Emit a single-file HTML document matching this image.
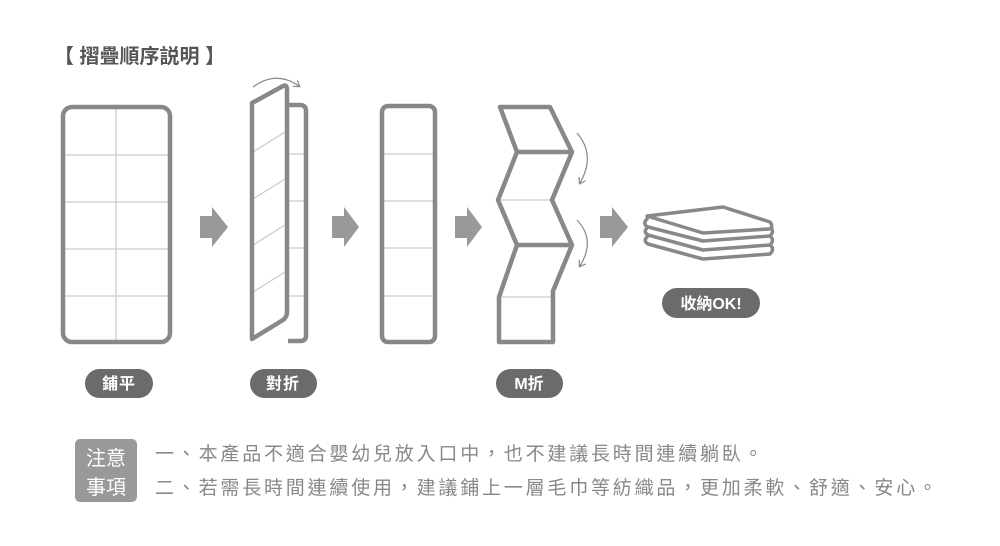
<!DOCTYPE html>
<html><head><meta charset="utf-8"><style>
body{margin:0;background:#fff;width:1000px;height:546px;overflow:hidden;font-family:"Liberation Sans","Noto Sans CJK TC",sans-serif}
</style></head><body>
<svg width="1000" height="546" viewBox="0 0 1000 546" xmlns="http://www.w3.org/2000/svg" style="position:absolute;left:0;top:0">
<defs>
<marker id="ah" markerWidth="8" markerHeight="8" refX="5" refY="4" orient="auto" markerUnits="userSpaceOnUse"><path d="M0,0 L6,4 L0,8" fill="none" stroke="#888" stroke-width="1.2"/></marker>
</defs>
<text x="54" y="63" font-size="20" font-weight="bold" fill="#555" font-family="Liberation Sans, Noto Sans CJK TC, sans-serif">【 摺疊順序説明 】</text>
<g fill="none" stroke="#ccc" stroke-width="1.3">
<line x1="116" y1="108" x2="116" y2="341"/>
<line x1="64" y1="155" x2="169" y2="155"/><line x1="64" y1="202" x2="169" y2="202"/><line x1="64" y1="249" x2="169" y2="249"/><line x1="64" y1="296" x2="169" y2="296"/>
<line x1="288" y1="154" x2="305" y2="154"/><line x1="288" y1="201" x2="305" y2="201"/><line x1="288" y1="248" x2="305" y2="248"/><line x1="288" y1="296" x2="305" y2="296"/>
<line x1="253" y1="152" x2="285" y2="132"/><line x1="253" y1="199" x2="285" y2="179"/><line x1="253" y1="245" x2="285" y2="225"/><line x1="253" y1="292" x2="285" y2="272"/>
<line x1="384" y1="154" x2="433" y2="154"/><line x1="384" y1="201" x2="433" y2="201"/><line x1="384" y1="248" x2="433" y2="248"/><line x1="384" y1="296" x2="433" y2="296"/>
<line x1="500" y1="200" x2="552" y2="200"/><line x1="500" y1="297" x2="553" y2="297"/>
</g>
<g fill="none" stroke="#888" stroke-width="4.5" stroke-linejoin="round">
<rect x="63" y="107" width="107" height="235" rx="9"/>
<path d="M288,105 L300,105 Q306,105 306,111 L306,336 Q306,341 300,341 L288,341"/>
<path d="M252,103 L283,86 Q287,84 287,90 L287,312 Q287,317 283,320 L252,339 Z"/>
<rect x="382" y="106" width="53" height="236" rx="6"/>
<path d="M500,107 L550,107 L572,152 L552,200 L572,245 L553,291 L553,342 L499,342 L499,297 L517,245 L498,200 L517,152 Z"/>
<line x1="517" y1="152" x2="572" y2="152"/><line x1="517" y1="245" x2="572" y2="245"/>
</g>
<g fill="#999">
<path d="M200,216 L212,216 L212,207 L228,227 L212,247 L212,238 L200,238 Z"/>
<path d="M332,216 L344,216 L344,207 L359,227 L344,247 L344,238 L332,238 Z"/>
<path d="M455,216 L467,216 L467,207 L482,227 L467,247 L467,238 L455,238 Z"/>
<path d="M600,216 L612,216 L612,207 L628,227 L612,247 L612,238 L600,238 Z"/>
</g>
<g fill="none" stroke="#888" stroke-width="1.2">
<path d="M253,87 Q276,70 299,86" marker-end="url(#ah)"/>
<path d="M577,133 Q596,155 580,183" marker-end="url(#ah)"/>
<path d="M577,220 Q596,240 580,266" marker-end="url(#ah)"/>
</g>
<g fill="none" stroke="#888" stroke-width="3.5" stroke-linejoin="round" stroke-linecap="round">
<path d="M647,228 Q643,232 648,235 L703,250 L770,245 Q775,240 770,236"/>
<path d="M647,219 Q642,224 648,227 L703,241 L770,236 Q775,231 770,227"/>
<path d="M647,237 Q643,241 648,244 L703,259 L770,254 Q775,249 770,245"/>
<path d="M647,216 L723,207 L770,222 Q774,227 769,229 L703,233 Z" fill="#fff"/>
</g>
<g fill="#6b6b6b">
<rect x="85" y="369" width="68" height="29" rx="14.5"/>
<rect x="250" y="369" width="67" height="29" rx="14.5"/>
<rect x="496" y="369" width="67" height="29" rx="14.5"/>
<rect x="662" y="288" width="98" height="30" rx="15"/>
<rect x="75" y="439" width="62" height="63" rx="5" fill="#999"/>
</g>
<g fill="#fff" font-size="16" font-weight="bold" text-anchor="middle" font-family="Liberation Sans, Noto Sans CJK TC, sans-serif">
<text x="119" y="389" letter-spacing="1">鋪平</text>
<text x="283" y="389" letter-spacing="1">對折</text>
<text x="529" y="389">M折</text>
<text x="711" y="309">收納OK!</text>
</g>
<g fill="#fff" font-size="20" text-anchor="middle" font-family="Liberation Sans, Noto Sans CJK TC, sans-serif">
<text x="106" y="465">注意</text>
<text x="106" y="494">事項</text>
</g>
<g fill="#888" font-size="19" letter-spacing="2.8" font-family="Liberation Sans, Noto Sans CJK TC, sans-serif">
<text x="155" y="460">一、本產品不適合嬰幼兒放入口中，也不建議長時間連續躺臥。</text>
<text x="155" y="494">二、若需長時間連續使用，建議鋪上一層毛巾等紡織品，更加柔軟、舒適、安心。</text>
</g>
</svg>
</body></html>
